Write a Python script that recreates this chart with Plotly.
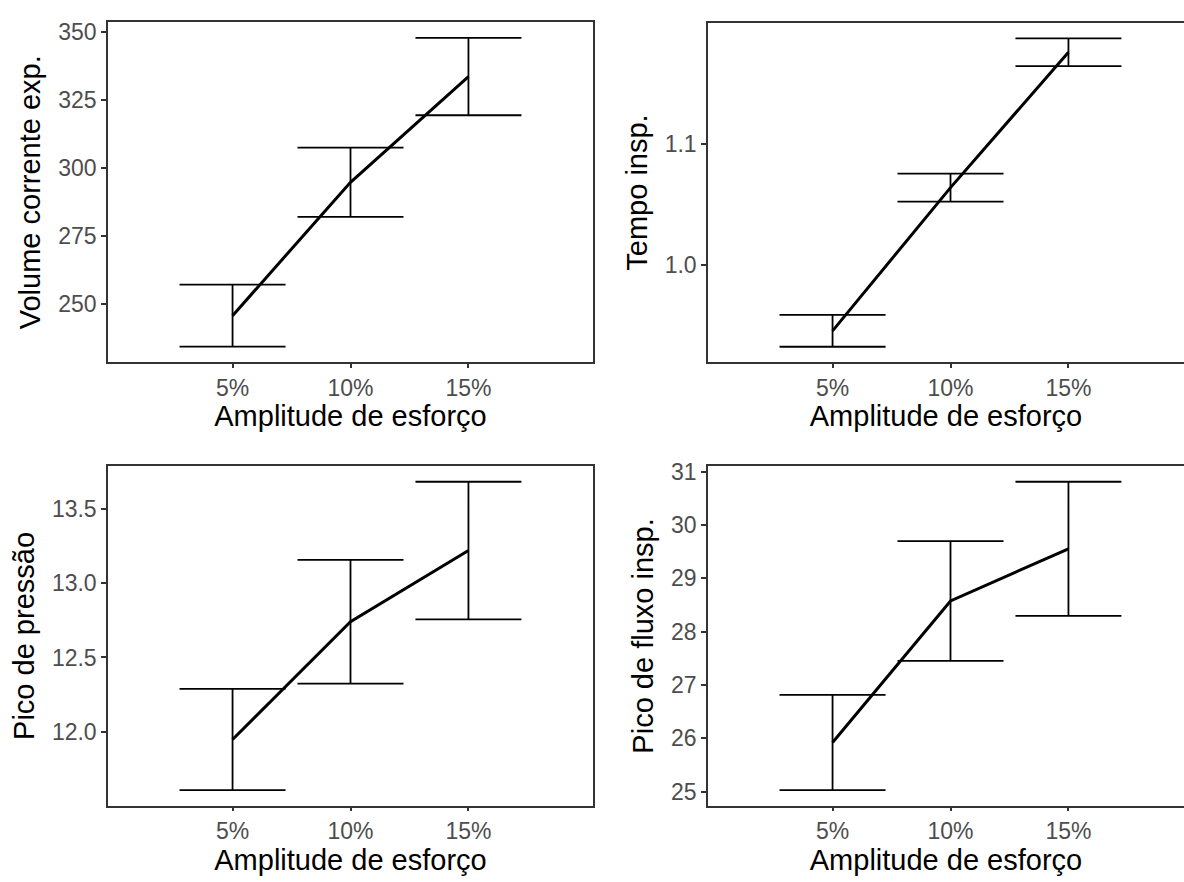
import plotly.graph_objects as go

# Effort amplitude levels (percent)
amplitude = [5, 10, 15]
amplitude_labels = ["5%", "10%", "15%"]

# Means and half-widths of the confidence intervals for each outcome
volume_mean = [245.8, 294.7, 333.5]
volume_err = [11.4, 12.7, 14.2]

tempo_mean = [0.946, 1.064, 1.1755]
tempo_err = [0.0131, 0.0115, 0.0115]

pressao_mean = [11.949, 12.740, 13.218]
pressao_err = [0.340, 0.416, 0.462]

fluxo_mean = [25.92, 28.577, 29.556]
fluxo_err = [0.895, 1.124, 1.258]

y_titles = ["Volume corrente exp.", "Tempo insp.", "Pico de pressão", "Pico de fluxo insp."]
y_ticks = [
    [250, 275, 300, 325, 350],
    [1.0, 1.1],
    [12.0, 12.5, 13.0, 13.5],
    [25, 26, 27, 28, 29, 30, 31],
]
y_tickformat = ["d", ".1f", ".1f", "d"]

W, H = 1184, 882
FONT = "Liberation Sans, Arial, sans-serif"
AXIS_COLOR = "#333333"
TICK_COLOR = "#4D4D4D"

# Panel boxes in pixels: (left, right, top, bottom)
boxes = [
    (108, 593, 15.5, 358),
    (708, 1184, 16, 358),
    (108, 593, 463, 805),
    (708, 1184, 463, 805),
]
px_per_unit = (593 - 108) / 20.56
x_left = -0.28

series = [
    (volume_mean, volume_err),
    (tempo_mean, tempo_err),
    (pressao_mean, pressao_err),
    (fluxo_mean, fluxo_err),
]

fig = go.Figure()
layout = dict(
    width=W, height=H,
    margin=dict(l=0, r=0, t=0, b=0),
    paper_bgcolor="white", plot_bgcolor="white",
    showlegend=False,
    font=dict(family=FONT),
)

for i, ((mean, err), (l, r, t, b)) in enumerate(zip(series, boxes)):
    n = "" if i == 0 else str(i + 1)
    fig.add_trace(go.Scatter(
        x=amplitude, y=mean, mode="lines",
        line=dict(color="black", width=3),
        error_y=dict(type="data", array=err, visible=True,
                     width=53, thickness=1.8, color="black"),
        xaxis="x" + n, yaxis="y" + n,
        hoverinfo="skip",
    ))
    lo = min(m - e for m, e in zip(mean, err))
    hi = max(m + e for m, e in zip(mean, err))
    pad = (hi - lo) * 0.05
    x_right = x_left + (r - l) / px_per_unit
    right_col = i % 2 == 1
    layout["xaxis" + n] = dict(
        domain=[l / W, r / W], anchor="y" + n,
        range=[x_left, x_right],
        tickvals=amplitude, ticktext=amplitude_labels,
        showgrid=False, zeroline=False,
        showline=True, linecolor=AXIS_COLOR, linewidth=1.5, mirror=True,
        ticks="outside", ticklen=4, tickwidth=1.5, tickcolor=AXIS_COLOR,
        tickfont=dict(size=23, color=TICK_COLOR, family=FONT),
        title=dict(text="Amplitude de esforço", standoff=5,
                   font=dict(size=29, color="black", family=FONT)),
    )
    layout["yaxis" + n] = dict(
        domain=[1 - b / H, 1 - t / H], anchor="x" + n,
        range=[lo - pad, hi + pad],
        tickvals=y_ticks[i], tickformat=y_tickformat[i],
        showgrid=False, zeroline=False,
        showline=True, linecolor=AXIS_COLOR, linewidth=1.5,
        mirror=not right_col,
        ticks="outside", ticklen=5, tickwidth=1.5, tickcolor=AXIS_COLOR,
        tickfont=dict(size=23, color=TICK_COLOR, family=FONT),
        title=dict(text=y_titles[i], standoff=9,
                   font=dict(size=29, color="black", family=FONT)),
    )

fig.update_layout(**layout)
fig.write_html("out.html")
